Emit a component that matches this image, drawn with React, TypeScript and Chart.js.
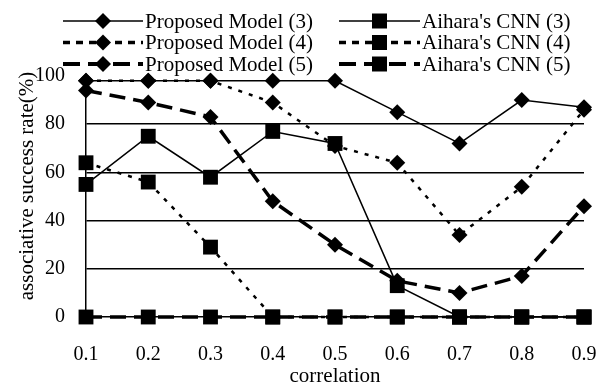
import React, { useEffect, useRef } from "react";
import { Chart, registerables } from "chart.js";
Chart.register(...registerables);

const categories = ["0.1", "0.2", "0.3", "0.4", "0.5", "0.6", "0.7", "0.8", "0.9"];
const proposed3 = [98, 98, 98, 98, 98, 85, 72, 90, 87];
const proposed4 = [98, 98, 98, 89, 71, 64, 34, 54, 86];
const proposed5 = [94, 89, 83, 48, 30, 15, 10, 17, 46];
const cnn3 = [55, 75, 58, 77, 72, 13, 0, 0, 0];
const cnn4 = [64, 56, 29, 0, 0, 0, 0, 0, 0];
const cnn5 = [0, 0, 0, 0, 0, 0, 0, 0, 0];
const yTicks = [0, 20, 40, 60, 80, 100];
const xTitle = "correlation";
const yTitle = "associative success rate(%)";

const FONT = "'Liberation Serif', 'DejaVu Serif', serif";
const SOLID: number[] = [];
const DOT = [4, 7];
const DASH = [16, 8];

type S = { label: string; data: number[]; dash: number[]; width: number; marker: string; radius: number; legDash: number[]; legWidth: number };
const series: S[] = [
  { label: "Proposed Model (3)", data: proposed3, dash: SOLID, width: 1.5, marker: "rectRot", radius: 8, legDash: SOLID, legWidth: 1.5 },
  { label: "Aihara's CNN (3)", data: cnn3, dash: SOLID, width: 1.5, marker: "rect", radius: 10.5, legDash: SOLID, legWidth: 1.5 },
  { label: "Proposed Model (4)", data: proposed4, dash: DOT, width: 2.5, marker: "rectRot", radius: 8, legDash: [7, 6], legWidth: 3.5 },
  { label: "Aihara's CNN (4)", data: cnn4, dash: DOT, width: 2.5, marker: "rect", radius: 10.5, legDash: [7, 6], legWidth: 3.5 },
  { label: "Proposed Model (5)", data: proposed5, dash: DASH, width: 3.5, marker: "rectRot", radius: 8, legDash: [17, 8], legWidth: 4 },
  { label: "Aihara's CNN (5)", data: cnn5, dash: DASH, width: 3.5, marker: "rect", radius: 10.5, legDash: [17, 8], legWidth: 4 },
];

const legendPlugin = {
  id: "customLegend",
  afterDraw(chart: any) {
    const ctx = chart.ctx;
    ctx.save();
    ctx.font = `21px ${FONT}`;
    ctx.textBaseline = "middle";
    ctx.fillStyle = "#000";
    series.forEach((s, i) => {
      const col = i % 2;
      const row = Math.floor(i / 2);
      const x0 = col === 0 ? 63 : 339;
      const x1 = col === 0 ? 143 : 420;
      const y = 21 + row * 21.5;
      ctx.strokeStyle = "#000";
      ctx.lineWidth = s.legWidth;
      ctx.setLineDash(s.legDash);
      ctx.beginPath();
      ctx.moveTo(x0, y);
      ctx.lineTo(x1, y);
      ctx.stroke();
      ctx.setLineDash([]);
      const cx = (x0 + x1) / 2;
      ctx.beginPath();
      if (s.marker === "rect") {
        const h = 7.5;
        ctx.rect(cx - h, y - h, 2 * h, 2 * h);
      } else {
        const r = 8;
        ctx.moveTo(cx, y - r);
        ctx.lineTo(cx + r, y);
        ctx.lineTo(cx, y + r);
        ctx.lineTo(cx - r, y);
        ctx.closePath();
      }
      ctx.fill();
      ctx.fillText(s.label, x1 + 2, y + 1);
    });
    ctx.translate(27, 186);
    ctx.rotate(-Math.PI / 2);
    ctx.textAlign = "center";
    ctx.fillText(yTitle, 0, 0);
    ctx.restore();
  },
};

export default function App() {
  const ref = useRef<HTMLCanvasElement>(null);
  useEffect(() => {
    document.body.style.margin = "0";
    const chart = new Chart(ref.current!, {
      type: "line",
      data: {
        labels: categories,
        datasets: series.map((s) => ({
          label: s.label,
          data: s.data,
          borderColor: "#000",
          backgroundColor: "#000",
          borderWidth: s.width,
          borderDash: s.dash,
          pointStyle: s.marker as any,
          pointRadius: s.radius,
          pointBackgroundColor: "#000",
          pointBorderColor: "#000",
          pointBorderWidth: 0,
          tension: 0,
          fill: false,
          clip: false as any,
        })),
      },
      options: {
        animation: false,
        responsive: false,
        maintainAspectRatio: false,
        layout: { padding: { top: 76, right: 23, left: 0, bottom: 0 } },
        plugins: { legend: { display: false }, tooltip: { enabled: false } },
        scales: {
          x: {
            type: "category",
            offset: false,
            grid: { display: false, drawTicks: false },
            border: { display: true, color: "#000", width: 1.5 },
            ticks: { color: "#000", font: { family: FONT, size: 20 }, padding: 26, maxRotation: 0 },
            title: { display: true, text: xTitle, color: "#000", font: { family: FONT, size: 21, lineHeight: 1 }, padding: { top: 0, bottom: -2 } },
            afterFit: (axis: any) => { axis.height = 68; axis.paddingRight = 0; axis.paddingLeft = 0; },
          },
          y: {
            type: "linear",
            min: 0,
            max: 100,
            afterBuildTicks: (axis: any) => { axis.ticks = yTicks.map((v) => ({ value: v })); },
            grid: {
              color: (c: any) => (c.tick && c.tick.value > 0 && c.tick.value < 100 ? "#000" : "rgba(0,0,0,0)"),
              lineWidth: 1.5,
              drawTicks: false,
            },
            border: { display: true, color: "#000", width: 1.5 },
            ticks: { color: "#000", font: { family: FONT, size: 20 }, padding: 21 },
            title: { display: false },
            afterFit: (axis: any) => { axis.width = 86; axis.paddingTop = 0; axis.paddingBottom = 0; },
          },
        },
      },
      plugins: [legendPlugin],
    });
    return () => chart.destroy();
  }, []);
  return <canvas ref={ref} width={607} height={385} style={{ display: "block" }} />;
}
